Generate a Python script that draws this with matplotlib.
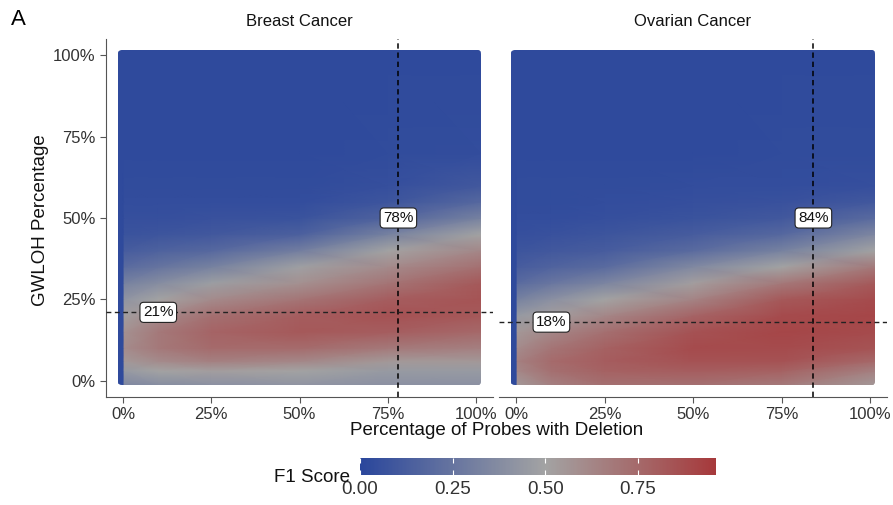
import numpy as np
import matplotlib
matplotlib.use("Agg")
import matplotlib.pyplot as plt
from matplotlib.colors import LinearSegmentedColormap, Normalize
from matplotlib.patches import FancyBboxPatch
import matplotlib.cm as cm

plt.rcParams['font.family'] = ['Liberation Sans', 'DejaVu Sans']

x_nodes = [-1.3, 0.0, 0.4, 10, 25, 50, 75, 101.5]
y_nodes = [-1.3, 3, 6, 10, 15, 20, 25, 30, 35, 40, 45, 50, 55, 60, 70, 101.5]

# F1 per x-column, listed bottom -> top along y_nodes
breast_cols = [
    [0.02] * 16,
    [0.02] * 16,
    [0.35, 0.45, 0.55, 0.60, 0.58, 0.52, 0.42, 0.32, 0.20, 0.12, 0.07, 0.05, 0.04, 0.03, 0.02, 0.02],
    [0.38, 0.50, 0.60, 0.68, 0.68, 0.60, 0.50, 0.38, 0.25, 0.15, 0.08, 0.05, 0.04, 0.03, 0.02, 0.02],
    [0.40, 0.52, 0.65, 0.74, 0.77, 0.72, 0.60, 0.47, 0.32, 0.18, 0.10, 0.06, 0.04, 0.03, 0.02, 0.02],
    [0.42, 0.50, 0.62, 0.74, 0.82, 0.80, 0.70, 0.58, 0.48, 0.30, 0.14, 0.07, 0.04, 0.03, 0.02, 0.02],
    [0.40, 0.45, 0.55, 0.68, 0.80, 0.85, 0.80, 0.70, 0.60, 0.50, 0.32, 0.16, 0.08, 0.05, 0.03, 0.02],
    [0.40, 0.45, 0.55, 0.65, 0.75, 0.82, 0.84, 0.82, 0.72, 0.62, 0.50, 0.32, 0.18, 0.10, 0.04, 0.02],
]

ovarian_cols = [
    [0.02] * 16,
    [0.02] * 16,
    [0.55, 0.62, 0.65, 0.60, 0.55, 0.45, 0.32, 0.20, 0.12, 0.08, 0.05, 0.04, 0.03, 0.03, 0.02, 0.02],
    [0.65, 0.72, 0.74, 0.70, 0.62, 0.52, 0.40, 0.26, 0.16, 0.10, 0.06, 0.04, 0.03, 0.03, 0.02, 0.02],
    [0.72, 0.78, 0.80, 0.78, 0.72, 0.62, 0.50, 0.34, 0.20, 0.12, 0.08, 0.05, 0.04, 0.03, 0.02, 0.02],
    [0.72, 0.80, 0.85, 0.88, 0.85, 0.77, 0.63, 0.52, 0.36, 0.20, 0.12, 0.07, 0.05, 0.04, 0.02, 0.02],
    [0.68, 0.78, 0.85, 0.88, 0.90, 0.88, 0.82, 0.68, 0.50, 0.32, 0.18, 0.10, 0.06, 0.04, 0.03, 0.02],
    [0.55, 0.65, 0.75, 0.84, 0.88, 0.90, 0.88, 0.82, 0.68, 0.50, 0.35, 0.20, 0.10, 0.05, 0.03, 0.02],
]

panels = ["Breast Cancer", "Ovarian Cancer"]
cut_x = [78, 84]
cut_y = [21, 18]
label_x_pos = [10, 10]   # where the y cutoff label sits
label_y_pos = [50, 50]   # where the x cutoff label sits

f1_max = 0.96
cb_ticks = [0.0, 0.25, 0.5, 0.75]

# blue -> grey (0.5) -> red
cmap = LinearSegmentedColormap.from_list(
    "f1", [(0.0, "#2A469C"), (0.5 / f1_max, "#A3A3A3"), (1.0, "#A6393B")])
norm = Normalize(vmin=0, vmax=f1_max)

fig = plt.figure(figsize=(8.93, 5.05), dpi=100)

axes_rect = [[0.1187, 0.2139, 0.4334, 0.7089],
             [0.5588, 0.2139, 0.4345, 0.7089]]
axis_grey = "#555555"
text_col = "#333333"

for i, (name, cols) in enumerate(zip(panels, [breast_cols, ovarian_cols])):
    ax = fig.add_axes(axes_rect[i])
    X, Y = np.meshgrid(x_nodes, y_nodes)
    Z = np.array(cols).T
    mesh = ax.pcolormesh(X, Y, Z, shading='gouraud', cmap=cmap, norm=norm,
                         rasterized=True, zorder=1)
    clip = FancyBboxPatch((-1.3, -1.3), 102.8, 102.8,
                          boxstyle="round,pad=0,rounding_size=1.0",
                          transform=ax.transData, facecolor='none', edgecolor='none')
    ax.add_patch(clip)
    mesh.set_clip_path(clip)

    ax.axvline(cut_x[i], color='black', ls=(0, (3.5, 2.5)), lw=1.1, zorder=3)
    ax.axhline(cut_y[i], color='#222222', ls=(0, (3.5, 2.5)), lw=1.0, zorder=3)

    box = dict(boxstyle="round,pad=0.2,rounding_size=0.25", fc='white',
               ec='#222222', lw=0.8)
    ax.text(cut_x[i], label_y_pos[i], f"{cut_x[i]}%", ha='center', va='center',
            fontsize=11, color='#111111', bbox=box, zorder=4)
    ax.text(label_x_pos[i], cut_y[i], f"{cut_y[i]}%", ha='center', va='center',
            fontsize=11, color='#111111', bbox=box, zorder=4)

    ax.set_xlim(-4.8, 104.8)
    ax.set_ylim(-5, 105)
    ax.set_xticks([0, 25, 50, 75, 100])
    ax.set_xticklabels(["0%", "25%", "50%", "75%", "100%"])
    ax.set_yticks([0, 25, 50, 75, 100])
    ax.set_yticklabels(["0%", "25%", "50%", "75%", "100%"])
    for s in ['top', 'right']:
        ax.spines[s].set_visible(False)
    ax.spines['bottom'].set_color(axis_grey)
    ax.spines['left'].set_color(axis_grey)
    ax.tick_params(colors=axis_grey, labelcolor=text_col, labelsize=12,
                   length=4, width=0.8)
    if i == 1:
        ax.spines['left'].set_visible(False)
        ax.tick_params(axis='y', left=False, labelleft=False)
    ax.set_title(name, fontsize=12, color='#111111', pad=9)

fig.text(0.0455, 0.5644, "GWLOH Percentage", rotation=90, ha='center', va='center',
         fontsize=13.5, color='#111111')
fig.text(0.5565, 0.1485, "Percentage of Probes with Deletion", ha='center', va='center',
         fontsize=13.5, color='#111111')
fig.text(0.012, 0.962, "A", ha='left', va='center', fontsize=16, color='black')

# colour bar
cax = fig.add_axes([360 / 893, 1 - 475 / 505, 356 / 893, 17 / 505])
cb = fig.colorbar(cm.ScalarMappable(norm=norm, cmap=cmap), cax=cax,
                  orientation='horizontal', ticks=cb_ticks)
cb.outline.set_visible(False)
cb.ax.set_xticklabels(["0.00", "0.25", "0.50", "0.75"])
cb.ax.tick_params(axis='x', direction='in', colors='white', length=3.5, width=0.8,
                  labelcolor=text_col, labelsize=13.5, pad=4)
cb.ax.tick_params(axis='x', top=True)
fig.text(350 / 893, 1 - 478 / 505, "F1 Score", ha='right', va='center',
         fontsize=13.5, color='#111111')

fig.savefig("out.png", dpi=100)
